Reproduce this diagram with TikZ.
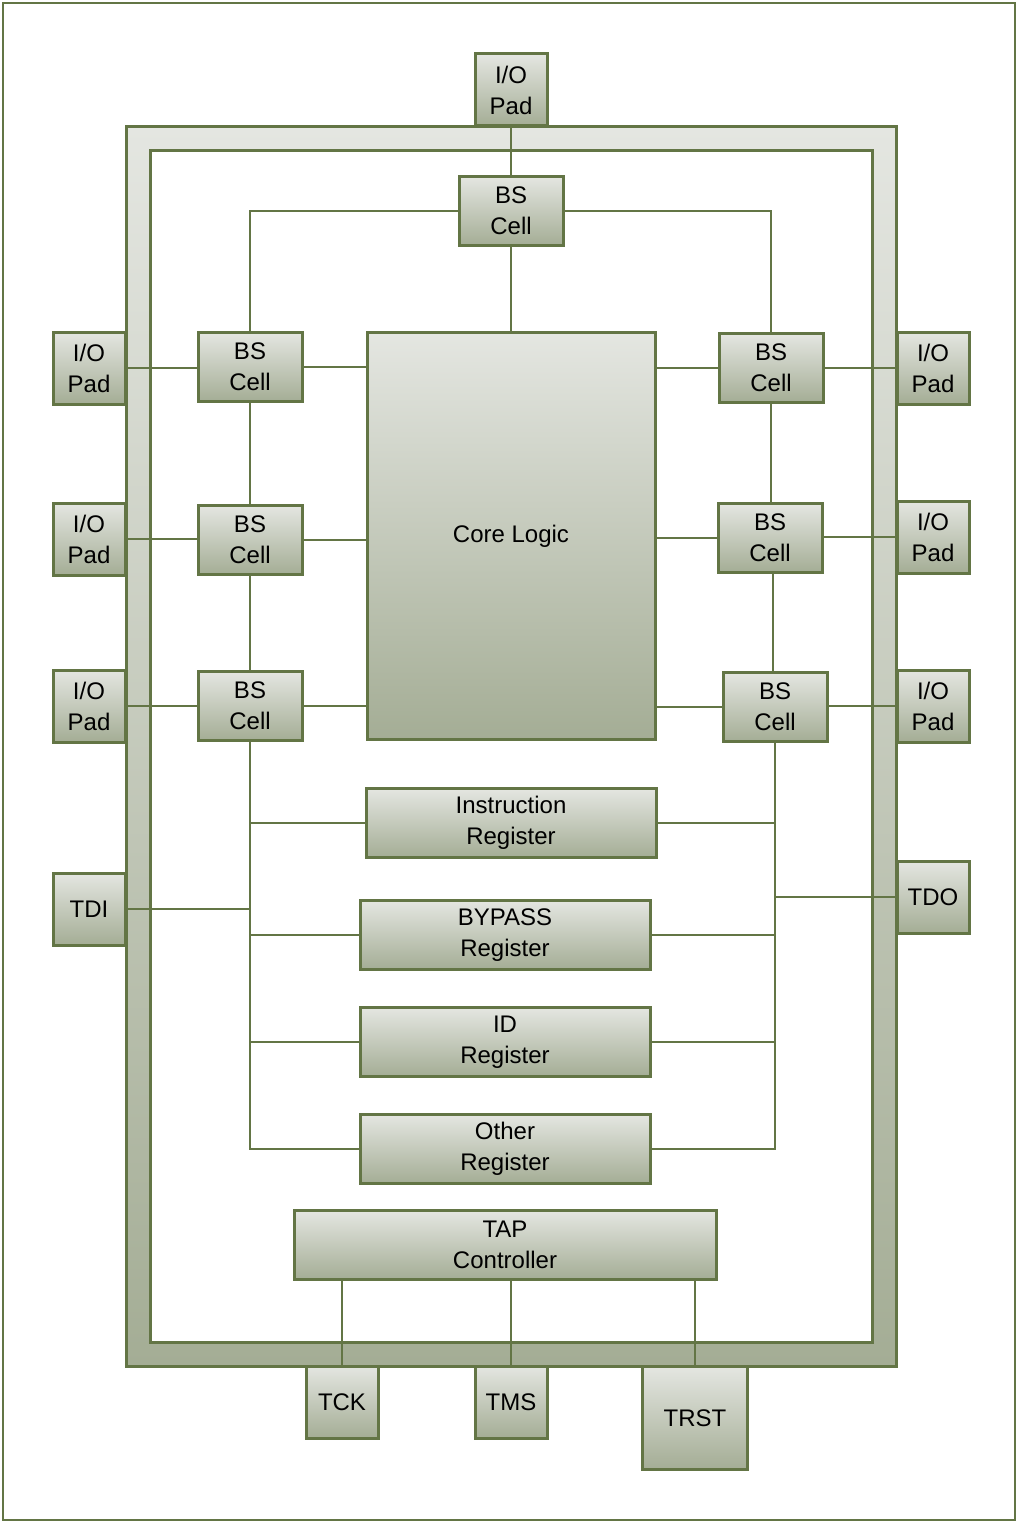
\documentclass[tikz,border=0pt]{standalone}
\usepackage{fontspec}
\setmainfont{Liberation Sans}
\usetikzlibrary{positioning}
\definecolor{chipline}{RGB}{99,117,69}
\definecolor{chiptop}{RGB}{228,230,225}
\definecolor{chipbot}{RGB}{164,173,149}
\begin{document}
\begin{tikzpicture}[
  x=1pt, y=-1pt, font=\fontsize{24}{31}\selectfont,
  blk/.style={draw=chipline, line width=3pt, top color=chiptop, bottom color=chipbot, align=center, inner sep=0pt},
  pad/.style={blk, minimum width=72pt, minimum height=72pt},
  cell/.style={blk, minimum width=104pt, minimum height=69pt},
  reg/.style={blk, minimum width=290pt, minimum height=69pt},
  wire/.style={draw=chipline, line width=2.6pt}
]
  \useasboundingbox (0,0) rectangle (1017,1522);
  \draw[chipline, line width=2pt] (3,3) rectangle (1015,1520);
  % chip ring
  \shade[top color=chiptop, bottom color=chipbot, even odd rule] (126,127) rectangle (896,1366) (150,151) rectangle (872,1342);
  \draw[chipline, line width=3pt] (126,127) rectangle (896,1366) (150,151) rectangle (872,1342);

  \node[pad] (toppad) at (511,90) {I/O\\Pad};
  \node[cell] (topcell) at (511,211) {BS\\Cell};
  \node[blk, minimum width=288pt, minimum height=407pt] (core) at (511,536) {Core Logic};

  \node[cell] (lcellA) at (250,367) {BS\\Cell};
  \node[cell] (lcellB) at (250,540) {BS\\Cell};
  \node[cell] (lcellC) at (250,706) {BS\\Cell};
  \node[pad] (lpadA) at (89,368) {I/O\\Pad};
  \node[pad] (lpadB) at (89,539) {I/O\\Pad};
  \node[pad] (lpadC) at (89,706) {I/O\\Pad};
  \node[pad] (tdi) at (89,909) {TDI};

  \node[cell] (rcellA) at (771,368) {BS\\Cell};
  \node[cell] (rcellB) at (770,538) {BS\\Cell};
  \node[cell] (rcellC) at (775,707) {BS\\Cell};
  \node[pad] (rpadA) at (933,368) {I/O\\Pad};
  \node[pad] (rpadB) at (933,537) {I/O\\Pad};
  \node[pad] (rpadC) at (933,706) {I/O\\Pad};
  \node[pad] (tdo) at (933,897) {TDO};

  \node[reg] (irreg) at (511,823) {Instruction\\Register};
  \node[reg] (bpreg) at (505,935) {BYPASS\\Register};
  \node[reg] (idreg) at (505,1042) {ID\\Register};
  \node[reg] (othreg) at (505,1149) {Other\\Register};
  \node[blk, minimum width=422pt, minimum height=69pt] (tap) at (505,1245) {TAP\\Controller};

  \node[pad] (tck) at (342,1402) {TCK};
  \node[pad] (tms) at (511,1402) {TMS};
  \node[blk, minimum width=105pt, minimum height=103pt] (trst) at (695,1418) {TRST};

  % boundary scan chain
  \draw[wire] (toppad) -- (topcell);
  \draw[wire] (topcell) -- (core);
  \draw[wire] (topcell.west) -| (lcellA.north);
  \draw[wire] (topcell.east) -| (rcellA.north);
  \draw[wire] (lcellA) -- (lcellB);
  \draw[wire] (lcellB) -- (lcellC);
  \draw[wire] (rcellA.south) -- (rcellA.south |- rcellB.north);
  \draw[wire] (rcellB.south) ++(3,0) coordinate (rb) -- (rb |- rcellC.north);
  \foreach \c/\p in {lcellA/lpadA, lcellB/lpadB, lcellC/lpadC} {
    \draw[wire] (\p.east) -- (\p.east -| \c.west);
    \draw[wire] (\c.east) -- (\c.east -| core.west);
  }
  \foreach \c/\p in {rcellA/rpadA, rcellB/rpadB, rcellC/rpadC} {
    \draw[wire] (\p.west) -- (\p.west -| \c.east);
    \draw[wire] (\c.west) -- (\c.west -| core.east);
  }

  % registers
  \draw[wire] (lcellC.south) |- (othreg.west);
  \draw[wire] (rcellC.south) |- (othreg.east);
  \foreach \r in {irreg, bpreg, idreg} {
    \draw[wire] (\r.west) -- (\r.west -| lcellC.south);
    \draw[wire] (\r.east) -- (\r.east -| rcellC.south);
  }
  \draw[wire] (tdi.east) -- (tdi.east -| lcellC.south);
  \draw[wire] (tdo.west) -- (tdo.west -| rcellC.south);

  % tap pins
  \draw[wire] (tck.north) -- (tck.north |- tap.south);
  \draw[wire] (tms.north) -- (tms.north |- tap.south);
  \draw[wire] (trst.north) -- (trst.north |- tap.south);
\end{tikzpicture}
\end{document}
